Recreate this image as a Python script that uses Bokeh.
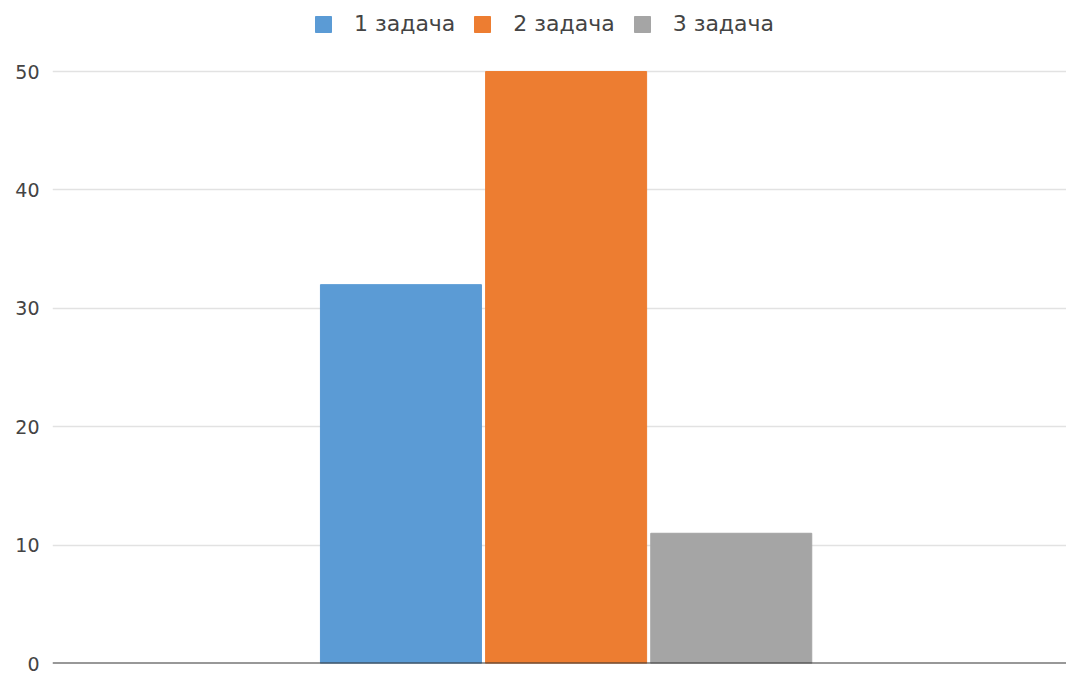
from bokeh.plotting import figure
from bokeh.models import Range1d, Legend, LegendItem, Span, ColumnDataSource, FixedTicker
from bokeh.embed import file_html
from bokeh.resources import INLINE

tasks = ["1 задача", "2 задача", "3 задача"]
values = [32, 50, 11]
colors = ["#5B9BD5", "#ED7D31", "#A5A5A5"]
y_ticks = [0, 10, 20, 30, 40, 50]

x_pos = list(range(len(tasks)))
src = ColumnDataSource(dict(x=x_pos, task=tasks, value=values, color=colors))

p = figure(width=1066, height=675, output_backend="svg", toolbar_location=None,
           x_range=Range1d(-2.11, 4.03),
           y_range=Range1d(0, 56.0),
           min_border_left=52, min_border_right=0, min_border_bottom=12, min_border_top=0)
p.outline_line_color = None

r = p.vbar(x="x", top="value", width=0.975, color="color", source=src)

p.xaxis.visible = False
p.xgrid.grid_line_color = None
p.ygrid.grid_line_color = "#e2e2e2"
p.ygrid.grid_line_width = 1.5

p.yaxis.ticker = FixedTicker(ticks=y_ticks)
p.yaxis.axis_line_color = None
p.yaxis.major_tick_line_color = None
p.yaxis.minor_tick_line_color = None
p.yaxis.major_label_text_font = "DejaVu Sans"
p.yaxis.major_label_text_font_size = "19px"
p.yaxis.major_label_text_color = "#444444"
p.yaxis.major_label_standoff = 7

base = Span(location=0, dimension="width", line_color="#333333", line_width=2)
p.add_layout(base)

legend = Legend(items=[LegendItem(label=t, renderers=[r], index=i) for i, t in enumerate(tasks)],
                orientation="horizontal", location=(261, 627),
                glyph_width=20, glyph_height=20, label_standoff=21, spacing=17,
                label_text_font="DejaVu Sans", label_text_font_size="22px",
                label_text_color="#444444", border_line_color=None,
                background_fill_alpha=0, padding=0, margin=0)
p.add_layout(legend)

open("out.html", "w").write(file_html(p, INLINE))
